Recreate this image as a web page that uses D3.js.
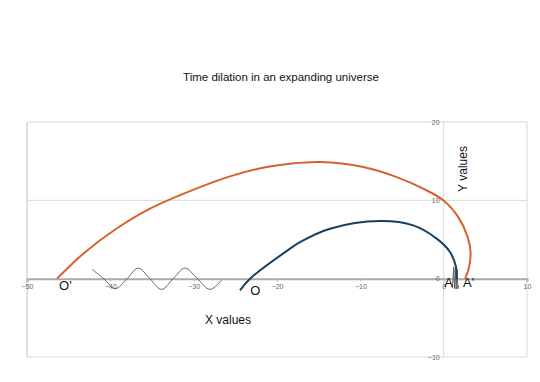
<!DOCTYPE html>
<html>
<head>
<meta charset="utf-8">
<script src="https://cdn.jsdelivr.net/npm/d3@7"></script>
<style>
  body { margin: 0; background: #fff; }
  svg { display: block; font-family: "Liberation Sans", Arial, sans-serif; }
</style>
</head>
<body>
<svg id="chart" width="540" height="382"></svg>
<script>
// values
const xTicks = [-50, -40, -30, -20, -10, 0, 10];
const yTicks = [-10, 0, 10, 20];

// far observer path (orange)
const orangeX = [-46.4, -43.25, -39.24, -35.24, -29.24, -25.25, -21.24, -18.44, -14.84,
                 -9.65, -5.64, -2.45, -0.05, 1.75, 2.88, 3.24, 2.95, 2.56];
const orangeY = [0, 3.19, 6.4, 8.94, 11.69, 13.19, 14.25, 14.68, 14.89,
                 14.25, 12.97, 11.49, 10.0, 7.86, 5.31, 3.19, 1.06, 0];

// near observer path (blue)
const blueX = [-24.44, -23.24, -18.44, -17.24, -13.64, -7.64, -3.65, -0.84, 0.76, 1.48, 1.56];
const blueY = [-1.49, 0, 3.83, 4.67, 6.38, 7.35, 6.8, 5.11, 3.4, 1.48, 0];

// stretched wave
const waveX = [-42.2, -40.8, -39.4, -38.0, -36.65, -35.25, -33.85, -32.45, -31.05, -29.55, -28.05, -26.65];
const waveY = [1.19, 0, -1.28, 0, 1.35, 0, -1.37, 0, 1.35, 0, -1.37, -0.2];

// compressed wave near origin
const shortWaveX = [1.05, 1.2, 1.3, 1.4, 1.5, 1.6, 1.7, 1.8];
const shortWaveY = [-1.2, 1.5, -1.3, 1.3, -1.3, 1.2, -1.3, -0.9];

const pointLabels = [
  {text: "O'", x: -45.4, y: -1.5},
  {text: "O", x: -22.6, y: -2.1},
  {text: "A", x: 0.6, y: -1.0},
  {text: "A'", x: 3.0, y: -1.0}
];

const svg = d3.select("#chart");
const plotLeft = 27, plotRight = 527, plotTop = 122, plotBottom = 357;

const x = d3.scaleLinear().domain([-50, 10]).range([plotLeft, plotRight]);
const y = d3.scaleLinear().domain([-10, 20]).range([plotBottom, plotTop]);

// grid
const grid = svg.append("g").attr("class", "grid");
grid.selectAll(".hgrid")
  .data(yTicks.filter(d => d !== 0))
  .enter().append("line")
    .attr("x1", plotLeft).attr("x2", plotRight)
    .attr("y1", d => y(d)).attr("y2", d => y(d))
    .attr("stroke", "#d9d9d9").attr("stroke-width", 1);
grid.selectAll(".vgrid")
  .data([-50, 0, 10])
  .enter().append("line")
    .attr("x1", d => x(d)).attr("x2", d => x(d))
    .attr("y1", plotTop).attr("y2", plotBottom)
    .attr("stroke", "#d9d9d9").attr("stroke-width", d => d === -50 ? 1.6 : 1);

// x axis on y = 0
const xAxis = d3.axisBottom(x).tickValues(xTicks).tickSize(3).tickPadding(2);
const gX = svg.append("g")
  .attr("transform", `translate(0, ${y(0)})`)
  .call(xAxis);
gX.select(".domain").attr("stroke", "#aaa").attr("stroke-width", 2);
gX.selectAll(".tick line").attr("stroke", "#bbb");
gX.selectAll("text").attr("fill", "#666").style("font-size", "7px")
  .style("font-family", "'Liberation Sans', Arial, sans-serif");

// y axis on x = 0
const yAxis = d3.axisLeft(y).tickValues(yTicks).tickSize(0).tickPadding(4);
const gY = svg.append("g")
  .attr("transform", `translate(${x(0)}, 0)`)
  .call(yAxis);
gY.select(".domain").remove();
gY.selectAll("text").attr("fill", "#666").style("font-size", "7px")
  .style("font-family", "'Liberation Sans', Arial, sans-serif");

const line = d3.line()
  .x(d => x(d[0]))
  .y(d => y(d[1]))
  .curve(d3.curveCatmullRom.alpha(0.5));

svg.append("path")
  .datum(d3.zip(waveX, waveY))
  .attr("d", line)
  .attr("fill", "none").attr("stroke", "#555").attr("stroke-width", 0.9);

svg.append("path")
  .datum(d3.zip(shortWaveX, shortWaveY))
  .attr("d", d3.line().x(d => x(d[0])).y(d => y(d[1])))
  .attr("fill", "none").attr("stroke", "#555").attr("stroke-width", 0.9);

svg.append("path")
  .datum(d3.zip(orangeX, orangeY))
  .attr("d", line)
  .attr("fill", "none").attr("stroke", "#d95f2e").attr("stroke-width", 2);

svg.append("path")
  .datum(d3.zip(blueX, blueY))
  .attr("d", line)
  .attr("fill", "none").attr("stroke", "#17405f").attr("stroke-width", 2);

svg.selectAll(".plabel")
  .data(pointLabels)
  .enter().append("text")
    .attr("x", d => x(d.x))
    .attr("y", d => y(d.y))
    .attr("text-anchor", "middle")
    .attr("fill", "#111")
    .style("font-size", "13px")
    .text(d => d.text);

svg.append("text")
  .attr("x", 281).attr("y", 81)
  .attr("text-anchor", "middle")
  .attr("fill", "#111")
  .style("font-size", "11.5px")
  .text("Time dilation in an expanding universe");

svg.append("text")
  .attr("x", 228).attr("y", 324)
  .attr("text-anchor", "middle")
  .attr("fill", "#111")
  .style("font-size", "12px")
  .text("X values");

svg.append("text")
  .attr("transform", "translate(467, 169) rotate(-90)")
  .attr("text-anchor", "middle")
  .attr("fill", "#111")
  .style("font-size", "12px")
  .text("Y values");
</script>
</body>
</html>
